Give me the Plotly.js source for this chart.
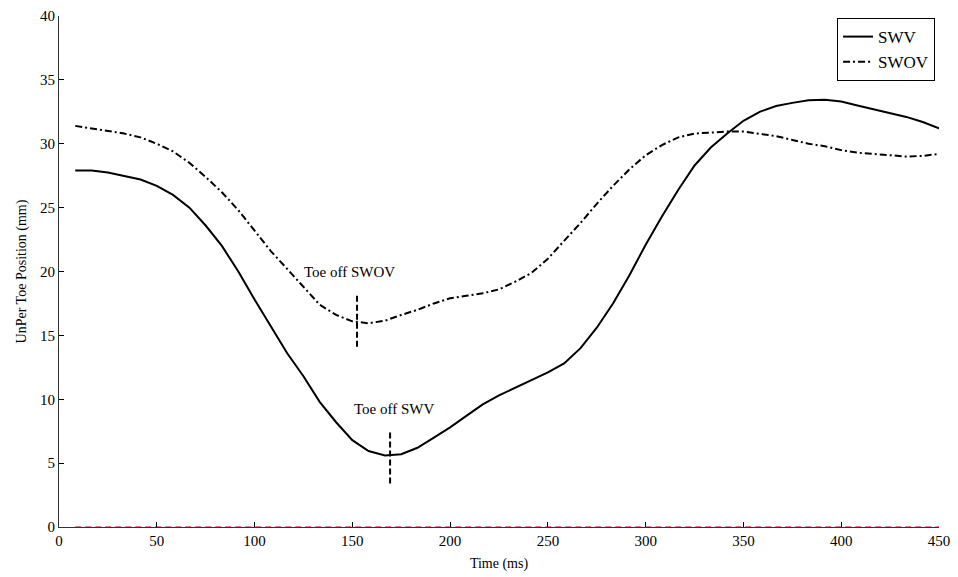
<!DOCTYPE html>
<html>
<head>
<meta charset="utf-8">
<script src="https://cdn.plot.ly/plotly-3.0.1.min.js"></script>
<style>html,body{margin:0;padding:0;background:#fff;}#chart{width:958px;height:577px;}</style>
</head>
<body>
<div id="chart"></div>
<script>
const timeMs = [8.3,16.7,25,33.3,41.7,50,58.3,66.7,75,83.3,91.7,100,108.3,116.7,125,133.3,141.7,150,158.3,166.7,175,183.3,191.7,200,208.3,216.7,225,233.3,241.7,250,258.3,266.7,275,283.3,291.7,300,308.3,316.7,325,333.3,341.7,350,358.3,366.7,375,383.3,391.7,400,408.3,416.7,425,433.3,441.7,450];
const swv = [27.9,27.9,27.75,27.5,27.2,26.7,26.0,25.0,23.6,22.0,20.0,17.8,15.7,13.6,11.8,9.8,8.2,6.8,5.95,5.6,5.7,6.2,7.0,7.8,8.7,9.6,10.3,10.9,11.5,12.1,12.8,14.0,15.6,17.5,19.7,22.1,24.3,26.4,28.3,29.7,30.8,31.8,32.5,32.95,33.2,33.4,33.45,33.3,33.0,32.7,32.4,32.1,31.7,31.2];
const swov = [31.4,31.2,31.0,30.8,30.5,30.0,29.4,28.5,27.4,26.2,24.8,23.2,21.6,20.2,18.8,17.4,16.6,16.1,15.95,16.15,16.6,17.0,17.5,17.9,18.1,18.3,18.6,19.2,19.9,21.0,22.4,23.8,25.3,26.7,28.0,29.1,29.9,30.5,30.8,30.9,30.95,30.95,30.8,30.6,30.3,30.0,29.8,29.5,29.3,29.2,29.1,29.0,29.05,29.2];
const baselineX = [8.3, 450];
const baselineY = [0, 0];
const toeOffLabels = ["Toe off SWOV", "Toe off SWV"];
const toeOffTime = [152.4, 169.3];
const toeOffLow = [14.1, 3.4];
const toeOffHigh = [18.2, 7.6];
const toeOffLabelX = [148.8, 171.3];
const toeOffLabelY = [20.0, 9.2];
const xTicks = [0,50,100,150,200,250,300,350,400,450];
const yTicks = [0,5,10,15,20,25,30,35,40];

const font = {family: '"Liberation Serif", "Times New Roman", serif', color: '#000'};

const traces = [
  {x: baselineX, y: baselineY, mode: 'lines', line: {color: '#e05050', width: 1.5, dash: '6px,4px'}, showlegend: false, hoverinfo: 'skip'},
  {x: timeMs, y: swv, name: 'SWV', mode: 'lines', line: {color: '#000', width: 2}},
  {x: timeMs, y: swov, name: 'SWOV', mode: 'lines', line: {color: '#000', width: 2, dash: '7px,3px,2px,3px'}},
];
toeOffTime.forEach((t, i) => {
  traces.push({x: [t, t], y: [toeOffLow[i], toeOffHigh[i]], mode: 'lines', line: {color: '#000', width: 2, dash: '6px,3px'}, showlegend: false, hoverinfo: 'skip'});
});

const annotations = toeOffLabels.map((txt, i) => ({
  x: toeOffLabelX[i], y: toeOffLabelY[i], xref: 'x', yref: 'y', text: txt, showarrow: false,
  font: Object.assign({size: 15}, font)
}));

const layout = {
  width: 958, height: 577,
  margin: {l: 59, r: 19, t: 16, b: 50},
  paper_bgcolor: '#fff', plot_bgcolor: '#fff',
  font: Object.assign({size: 14}, font),
  showlegend: true,
  legend: {x: 0.9955, y: 0.996, xanchor: 'right', yanchor: 'top', bordercolor: '#000', borderwidth: 1,
    bgcolor: '#fff', font: Object.assign({size: 17}, font), tracegroupgap: 0, itemwidth: 30},
  xaxis: {range: [0, 450], tickvals: xTicks, ticks: 'inside', ticklen: 5, tickcolor: '#000',
    showline: true, linecolor: '#333', linewidth: 1, showgrid: false, zeroline: false, mirror: false,
    tickfont: Object.assign({size: 15}, font),
    title: {text: 'Time (ms)', font: Object.assign({size: 14}, font), standoff: 10}},
  yaxis: {range: [0, 40], tickvals: yTicks, ticks: 'inside', ticklen: 5, tickcolor: '#000',
    showline: true, linecolor: '#333', linewidth: 1, showgrid: false, zeroline: false, mirror: false,
    tickfont: Object.assign({size: 15}, font),
    title: {text: 'UnPer Toe Position (mm)', font: Object.assign({size: 14}, font), standoff: 10}},
  annotations: annotations
};

Plotly.newPlot('chart', traces, layout, {displayModeBar: false, staticPlot: true});
</script>
</body>
</html>
